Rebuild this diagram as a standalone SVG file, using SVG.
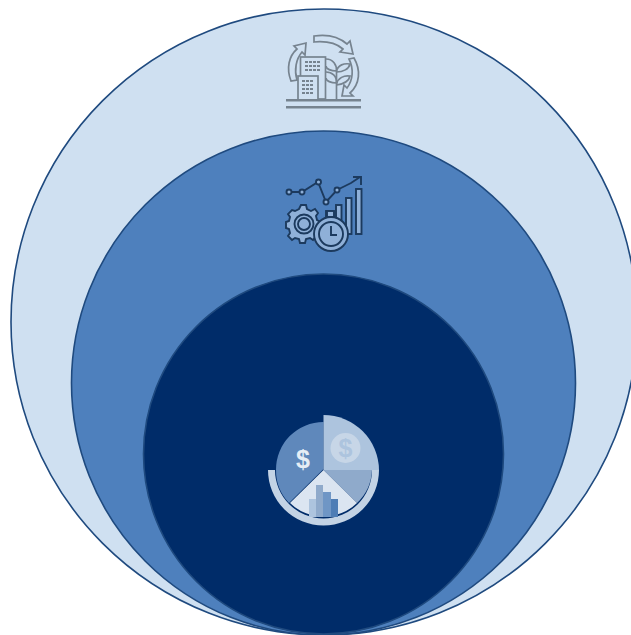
<svg xmlns="http://www.w3.org/2000/svg" width="631" height="635" viewBox="0 0 631 635">
<defs>
<style>
.ic1{fill:none;stroke:#76838f;stroke-width:1.7}
.ic1f{fill:#76838f}
.ic1l{fill:#cfe0f1;stroke:#76838f;stroke-width:1.7}
.ic2{fill:none;stroke:#1c3a5e;stroke-width:1.9}
.ic2l{fill:#8fb0d8;stroke:#1c3a5e;stroke-width:1.9}
</style>
</defs>
<rect width="631" height="635" fill="#ffffff"/>
<g id="outer-circle">
<circle cx="324" cy="322" r="313" fill="#cfe0f1" stroke="#1f4a7f" stroke-width="1.6"/>
<g id="icon-sustainability">
<path class="ic1l" d="M291 81 C286 68 289 56 297 49 L294 46 L306 43 L305 55 L302 52 C296 59 294 70 297 80 Z"/>
<path class="ic1l" d="M314 36 C327 34 339 37 347 44 L350 41 L353 54 L340 52 L343 49 C336 43 325 41 314 42 Z"/>
<path class="ic1l" d="M354 58 C361 70 360 84 350 93 L353 96 L342 96 L344 85 L347 88 C353 80 354 69 349 59 Z"/>
<rect class="ic1l" x="300.500" y="57" width="25" height="42"/>
<rect class="ic1l" x="298" y="76" width="20" height="24"/>
<g class="ic1f">
<rect x="305" y="61" width="3" height="2"/><rect x="309" y="61" width="3" height="2"/><rect x="313" y="61" width="3" height="2"/><rect x="317" y="61" width="3" height="2"/>
<rect x="305" y="65" width="3" height="2"/><rect x="309" y="65" width="3" height="2"/><rect x="313" y="65" width="3" height="2"/><rect x="317" y="65" width="3" height="2"/>
<rect x="305" y="69" width="3" height="2"/><rect x="309" y="69" width="3" height="2"/><rect x="313" y="69" width="3" height="2"/><rect x="317" y="69" width="3" height="2"/>
<rect x="302" y="80" width="3" height="2"/><rect x="306" y="80" width="3" height="2"/><rect x="310" y="80" width="3" height="2"/>
<rect x="302" y="84" width="3" height="2"/><rect x="306" y="84" width="3" height="2"/><rect x="310" y="84" width="3" height="2"/>
<rect x="302" y="88" width="3" height="2"/><rect x="306" y="88" width="3" height="2"/><rect x="310" y="88" width="3" height="2"/>
<rect x="302" y="92" width="3" height="2"/><rect x="306" y="92" width="3" height="2"/><rect x="310" y="92" width="3" height="2"/>
</g>
<path class="ic1" d="M336.500 99 V70"/>
<path class="ic1" d="M326 59 C333 59 337 65 336.500 71 C331 71 326 69 326 66 M336.500 71 C338 65 344 63 350 64 C349 69 343 72 336.500 72 M326 72 C332 72 337 76 336.500 83 C331 83 326 81 326 78 M336.500 84 C338 78 344 75 350 76 C349 81 343 84 336.500 85"/>
<rect class="ic1f" x="286" y="99" width="75" height="2.500"/>
<rect class="ic1f" x="286" y="106" width="75" height="2.500"/>
</g>
</g>
<g id="middle-circle">
<circle cx="323.500" cy="383" r="252" fill="#4e80bd" stroke="#1f4a7f" stroke-width="1.6"/>
<g id="icon-performance">
<path class="ic2" d="M289 192 H302 L318 182 L326 202 L337 190 L345 186 L351 183 L360 177"/>
<path class="ic2" d="M353 177 H361 V185"/>
<circle class="ic2l" cx="289" cy="192" r="2.500"/><circle class="ic2l" cx="302" cy="192" r="2.500"/><circle class="ic2l" cx="318.500" cy="182" r="2.500"/><circle class="ic2l" cx="326" cy="202" r="2.500"/><circle class="ic2l" cx="337" cy="190" r="2.500"/>
<rect class="ic2l" x="326" y="211" width="6" height="10"/>
<rect class="ic2l" x="336" y="205" width="5.500" height="28"/>
<rect class="ic2l" x="346" y="198" width="5.500" height="36"/>
<rect class="ic2l" x="356" y="189" width="5.500" height="45"/>
<path class="ic2l" d="M301 205 L306 205 L307 209 L311 211 L315 209 L318 213 L316 216 L317 220 L321 222 L320 228 L316 229 L315 233 L317 236 L313 240 L310 238 L306 239 L305 243 L300 243 L299 239 L295 238 L292 240 L288 236 L290 233 L289 229 L286 228 L286 222 L289 221 L290 217 L288 214 L292 210 L295 211 L299 209 Z"/>
<circle class="ic2l" cx="304" cy="224" r="9.500"/>
<circle class="ic2" cx="304" cy="224" r="6"/>
<rect class="ic2l" x="327" y="211" width="7" height="6"/>
<circle class="ic2l" cx="331" cy="234" r="17"/>
<circle class="ic2l" cx="331" cy="234" r="12"/>
<path class="ic2" d="M331 226 V235 H337"/>
</g>
</g>
<g id="inner-circle">
<circle cx="323.500" cy="454" r="180" fill="#002c69" stroke="#1f4a7f" stroke-width="1.600"/>
<g id="icon-finance">
<path d="M268 470 H275 A48.500 48.500 0 0 0 372 470 H379 A55.500 55.500 0 0 1 268 470 Z" fill="#c3d3e5"/>
<path d="M323.500 469 V422 A47.500 47.500 0 0 0 276 470 A47.500 47.500 0 0 0 289 503 Z" fill="#5f88bb"/>
<path d="M323.500 415 A55.500 55.500 0 0 1 379 470 H323.500 Z" fill="#adc4de"/>
<path d="M323.500 470 H372 A48 48 0 0 1 357 503 Z" fill="#8faacb"/>
<path d="M323.500 470 L357 503 A48 48 0 0 1 290 503 Z" fill="#dbe5f1"/>
<circle cx="345.500" cy="448" r="15" fill="#c7d6e7"/>
<text x="345.500" y="457" font-family="Liberation Sans, Arial, sans-serif" font-size="25" font-weight="700" text-anchor="middle" fill="#adc4de">$</text>
<text x="303" y="468" font-family="Liberation Sans, Arial, sans-serif" font-size="25" font-weight="700" text-anchor="middle" fill="#e6edf5">$</text>
<rect x="309" y="499" width="7" height="18" fill="#adc4de"/>
<rect x="316" y="485" width="7" height="32" fill="#8faacb"/>
<rect x="323" y="492" width="8" height="25" fill="#6f96c5"/>
<rect x="331" y="499" width="7" height="18" fill="#4e7db5"/>
</g>
</g>
</svg>
